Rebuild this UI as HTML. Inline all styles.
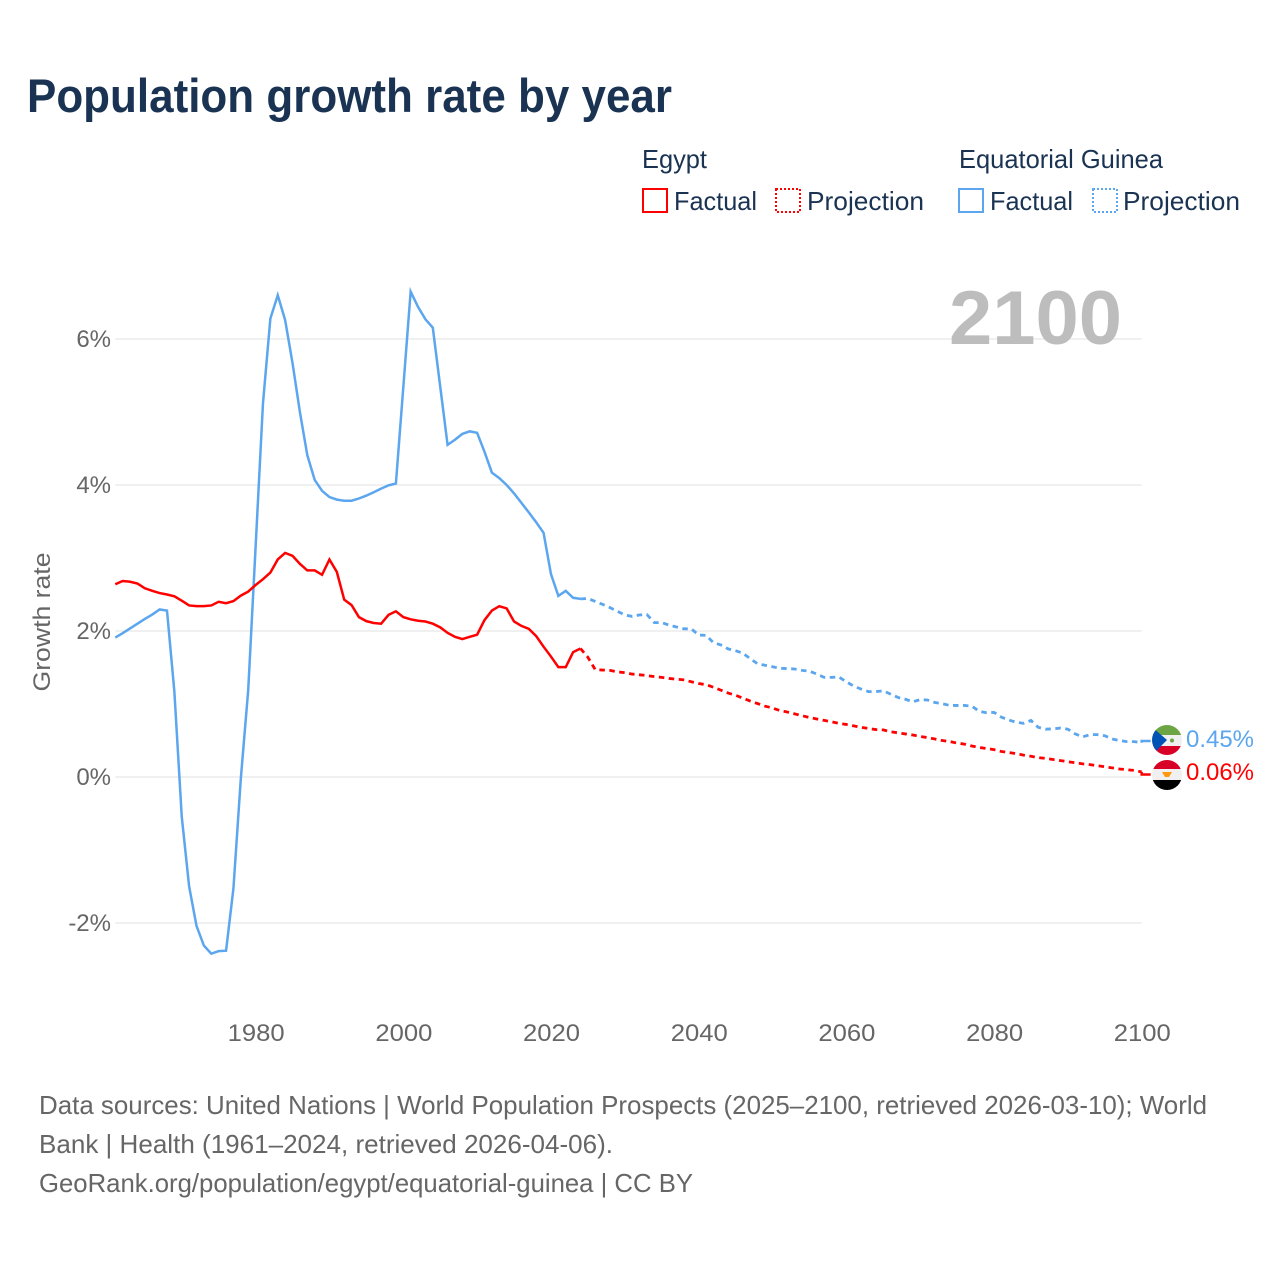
<!DOCTYPE html>
<html lang="en">
<head>
<meta charset="utf-8">
<title>Population growth rate by year</title>
<style>
  html, body { margin: 0; padding: 0; background: #fff; }
  svg { display: block; }
  text { font-family: "Liberation Sans", sans-serif; }
</style>
</head>
<body>
<svg id="chart" xmlns="http://www.w3.org/2000/svg" width="1280" height="1280" viewBox="0 0 1280 1280">
  <defs>
    <clipPath id="flag-clip-gq"><circle cx="1167" cy="740" r="15"/></clipPath>
    <clipPath id="flag-clip-eg"><circle cx="1167" cy="775" r="15"/></clipPath>
  </defs>
  <rect x="0" y="0" width="1280" height="1280" fill="#fff"/>

  <text x="27" y="112" font-size="47" font-weight="700" fill="#1a3353" textLength="645" lengthAdjust="spacingAndGlyphs">Population growth rate by year</text>

  <g font-size="26" fill="#1a3353">
    <text x="642" y="168" textLength="65" lengthAdjust="spacingAndGlyphs">Egypt</text>
    <text x="959" y="168" textLength="204" lengthAdjust="spacingAndGlyphs">Equatorial Guinea</text>

    <g>
      <rect x="643" y="189" width="24" height="23" fill="none" stroke="#ff0000" stroke-width="2"/>
      <text x="674" y="210" textLength="83" lengthAdjust="spacingAndGlyphs">Factual</text>
    </g>
    <g>
      <rect x="776" y="189" width="24" height="23" fill="none" stroke="#ff0000" stroke-width="2" stroke-dasharray="2 2"/>
      <text x="807" y="210" textLength="117" lengthAdjust="spacingAndGlyphs">Projection</text>
    </g>
    <g>
      <rect x="959" y="189" width="24" height="23" fill="none" stroke="#5ba6ee" stroke-width="2"/>
      <text x="990" y="210" textLength="83" lengthAdjust="spacingAndGlyphs">Factual</text>
    </g>
    <g>
      <rect x="1093" y="189" width="24" height="23" fill="none" stroke="#5ba6ee" stroke-width="2" stroke-dasharray="2 2"/>
      <text x="1123" y="210" textLength="117" lengthAdjust="spacingAndGlyphs">Projection</text>
    </g>
  </g>

  <g id="grid"></g>

  <text x="1122" y="344" text-anchor="end" font-size="76" font-weight="700" fill="#bdbdbd" textLength="173" lengthAdjust="spacingAndGlyphs">2100</text>

  <g id="y-ticks"></g>
  <g id="x-ticks"></g>
  <text transform="translate(50 622) rotate(-90)" text-anchor="middle" font-size="24" fill="#666" textLength="139" lengthAdjust="spacingAndGlyphs">Growth rate</text>

  <g id="series"></g>

  <g clip-path="url(#flag-clip-gq)">
    <rect x="1152" y="725" width="30" height="10" fill="#6da544"/>
    <rect x="1152" y="735" width="30" height="11" fill="#f0f0f0"/>
    <rect x="1152" y="746" width="30" height="9" fill="#d80027"/>
    <polygon points="1152,727 1167,740 1152,755" fill="#0052b4"/>
    <circle cx="1172" cy="740.5" r="2" fill="#6da544"/>
  </g>
  <g clip-path="url(#flag-clip-eg)">
    <rect x="1152" y="760" width="30" height="9" fill="#d80027"/>
    <rect x="1152" y="769" width="30" height="11" fill="#f0f0f0"/>
    <rect x="1152" y="780" width="30" height="10" fill="#000"/>
    <polygon points="1162,772 1172,772 1169,777 1165,777" fill="#ff9811"/>
  </g>

  <text x="1186" y="747" font-size="24" fill="#5ba6ee" textLength="68" lengthAdjust="spacingAndGlyphs">0.45%</text>
  <text x="1186" y="780" font-size="24" fill="#ff0000" textLength="68" lengthAdjust="spacingAndGlyphs">0.06%</text>

  <g font-size="26" fill="#666">
    <text x="39" y="1114" textLength="1168" lengthAdjust="spacingAndGlyphs">Data sources: United Nations | World Population Prospects (2025–2100, retrieved 2026-03-10); World</text>
    <text x="39" y="1153" textLength="574" lengthAdjust="spacingAndGlyphs">Bank | Health (1961–2024, retrieved 2026-04-06).</text>
    <text x="39" y="1192" textLength="654" lengthAdjust="spacingAndGlyphs">GeoRank.org/population/egypt/equatorial-guinea | CC BY</text>
  </g>
</svg>

<script>
const factualStartYear = 1961;
const projectionStartYear = 2025;
const xTickYears = [1980, 2000, 2020, 2040, 2060, 2080, 2100];
const yTickValues = [-2, 0, 2, 4, 6];
const yTickLabels = ["-2%", "0%", "2%", "4%", "6%"];

const egyptFactual = [
  2.64, 2.685, 2.675, 2.65, 2.585, 2.55, 2.52, 2.50, 2.475, 2.415,
  2.35, 2.34, 2.34, 2.35, 2.40, 2.38, 2.41, 2.485, 2.54, 2.63,
  2.71, 2.80, 2.98, 3.07, 3.03, 2.92, 2.83, 2.83, 2.77, 2.98,
  2.81, 2.43, 2.355, 2.19, 2.135, 2.11, 2.10, 2.22, 2.27, 2.19,
  2.16, 2.14, 2.13, 2.10, 2.05, 1.975, 1.92, 1.89, 1.92, 1.95,
  2.15, 2.28, 2.34, 2.31, 2.13, 2.07, 2.03, 1.93, 1.785, 1.65,
  1.505, 1.505, 1.71, 1.76
];
const egyptProjection = [
  1.64, 1.47, 1.465, 1.46, 1.44, 1.43, 1.41, 1.40, 1.39, 1.375,
  1.365, 1.35, 1.34, 1.33, 1.305, 1.28, 1.265, 1.23, 1.19, 1.15,
  1.12, 1.08, 1.04, 1.005, 0.97, 0.945, 0.91, 0.89, 0.865, 0.84,
  0.815, 0.795, 0.775, 0.755, 0.735, 0.72, 0.70, 0.68, 0.665, 0.65,
  0.645, 0.62, 0.605, 0.59, 0.575, 0.555, 0.54, 0.52, 0.50, 0.485,
  0.465, 0.45, 0.425, 0.405, 0.39, 0.375, 0.35, 0.335, 0.32, 0.30,
  0.285, 0.265, 0.255, 0.24, 0.225, 0.21, 0.195, 0.18, 0.17, 0.155,
  0.14, 0.125, 0.11, 0.10, 0.09, 0.07
];
const guineaFactual = [
  1.91, 1.97, 2.035, 2.10, 2.165, 2.225, 2.295, 2.28, 1.17, -0.545,
  -1.50, -2.04, -2.31, -2.42, -2.385, -2.38, -1.525, -0.02, 1.19, 3.15,
  5.12, 6.28, 6.60, 6.26, 5.67, 5.0, 4.41, 4.07, 3.92, 3.835,
  3.80, 3.785, 3.785, 3.815, 3.855, 3.90, 3.95, 3.995, 4.02, 5.335,
  6.65, 6.44, 6.27, 6.155, 5.35, 4.55, 4.62, 4.70, 4.735, 4.715,
  4.455, 4.17, 4.095, 4.0, 3.885, 3.755, 3.625, 3.49, 3.345, 2.78,
  2.48, 2.55, 2.455, 2.44
];
const guineaProjection = [
  2.445, 2.405, 2.365, 2.32, 2.27, 2.22, 2.20, 2.22, 2.225, 2.115,
  2.115, 2.08, 2.055, 2.03, 2.03, 1.945, 1.94, 1.84, 1.81, 1.755,
  1.73, 1.695, 1.62, 1.55, 1.53, 1.51, 1.49, 1.485, 1.48, 1.46,
  1.45, 1.41, 1.365, 1.365, 1.37, 1.305, 1.245, 1.205, 1.17, 1.17,
  1.18, 1.135, 1.09, 1.065, 1.03, 1.06, 1.055, 1.02, 1.005, 0.98,
  0.98, 0.98, 0.97, 0.90, 0.88, 0.885, 0.82, 0.78, 0.75, 0.735,
  0.775, 0.68, 0.655, 0.66, 0.67, 0.655, 0.59, 0.55, 0.58, 0.58,
  0.565, 0.52, 0.50, 0.485, 0.485, 0.47
];

const SVG_NS = "http://www.w3.org/2000/svg";
function xScale(year) { return 115.3 + (year - 1961) * 7.384; }
function yScale(value) { return 777 - value * 73; }

function seriesPoints(values, startYear) {
  return values.map(function (v, i) {
    return xScale(startYear + i).toFixed(2) + "," + yScale(v).toFixed(2);
  });
}

const gridGroup = document.getElementById("grid");
const yTickGroup = document.getElementById("y-ticks");
const xTickGroup = document.getElementById("x-ticks");
const seriesGroup = document.getElementById("series");

yTickValues.forEach(function (v, i) {
  const line = document.createElementNS(SVG_NS, "line");
  
  
  line.setAttribute("x1", xScale(factualStartYear));
  line.setAttribute("x2", xScale(2100));
  line.setAttribute("y1", yScale(v));
  line.setAttribute("y2", yScale(v));
  line.setAttribute("stroke", "#ececec");
  line.setAttribute("stroke-width", "1.5");
  gridGroup.appendChild(line);

  const label = document.createElementNS(SVG_NS, "text");
  
  
  label.setAttribute("x", 111);
  label.setAttribute("y", yScale(v) + 8);
  label.setAttribute("text-anchor", "end");
  label.setAttribute("font-size", "24");
  label.setAttribute("fill", "#666");
  label.textContent = yTickLabels[i];
  yTickGroup.appendChild(label);
});

xTickYears.forEach(function (year) {
  const label = document.createElementNS(SVG_NS, "text");
  
  
  label.setAttribute("x", xScale(year) + 0.6);
  label.setAttribute("y", 1041);
  label.setAttribute("text-anchor", "middle");
  label.setAttribute("font-size", "24");
  label.setAttribute("fill", "#666");
  label.setAttribute("textLength", "57");
  label.setAttribute("lengthAdjust", "spacingAndGlyphs");
  label.textContent = String(year);
  xTickGroup.appendChild(label);
});

function drawLine(points, color, dashed, name) {
  const line = document.createElementNS(SVG_NS, "polyline");
  
  
  line.setAttribute("points", points.join(" "));
  line.setAttribute("fill", "none");
  line.setAttribute("stroke", color);
  line.setAttribute("stroke-width", dashed ? "2.8" : "2.5");
  line.setAttribute("stroke-linejoin", "miter");
  if (dashed) line.setAttribute("stroke-dasharray", "5.5 4.5");
  seriesGroup.appendChild(line);
}

function drawSeries(factual, projection, color, baseName, stubY) {
  const factualPts = seriesPoints(factual, factualStartYear);
  const projectionPts = seriesPoints(projection, projectionStartYear);
  drawLine(factualPts, color, false, baseName + "-factual-line");
  drawLine([factualPts[factualPts.length - 1]].concat(projectionPts), color, true, baseName + "-projection-line");
  const last = projectionPts[projectionPts.length - 1];
  const lastX = parseFloat(last.split(",")[0]);
  drawLine([last, lastX + "," + stubY, (lastX + 9) + "," + stubY], color, false, baseName + "-label-leader");
}

drawSeries(guineaFactual, guineaProjection, "#5ba6ee", "guinea", 741);
drawSeries(egyptFactual, egyptProjection, "#ff0000", "egypt", 774.5);
</script>
</body>
</html>
